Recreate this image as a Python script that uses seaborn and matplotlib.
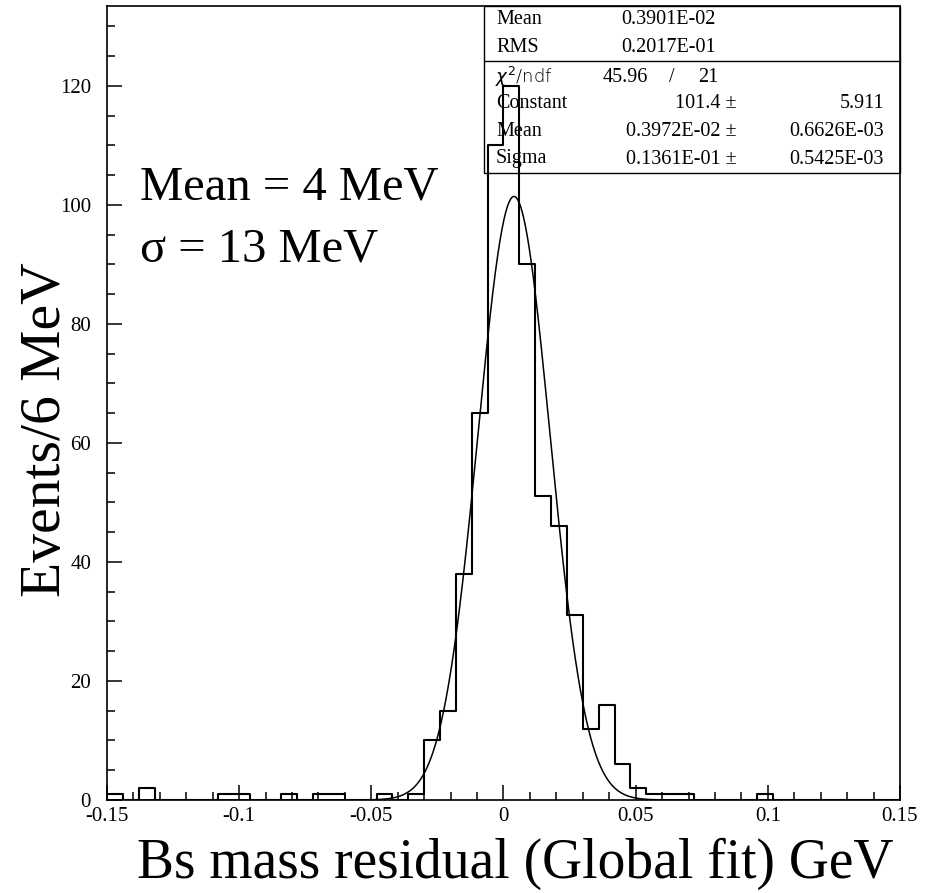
import numpy as np
import pandas as pd
import matplotlib
matplotlib.use("Agg")
import matplotlib.pyplot as plt
import seaborn as sns
from matplotlib.ticker import FixedLocator, MultipleLocator
from matplotlib.patches import Rectangle
from matplotlib.lines import Line2D

# ---------------- data ----------------
x_min, x_max, n_bins = -0.15, 0.15, 50          # 6 MeV bins
counts = [1, 0, 2, 0, 0, 0, 0, 1, 1, 0,
          0, 1, 0, 1, 1, 0, 0, 1, 0, 1,
          10, 15, 38, 65, 110, 120, 90, 51, 46, 31,
          12, 16, 6, 2, 1, 1, 1, 0, 0, 0,
          0, 1, 0, 0, 0, 0, 0, 0, 0, 0]
fit_constant, fit_mean, fit_sigma = 101.4, 0.3972e-02, 0.1361e-01

xtick_vals = [-0.15, -0.1, -0.05, 0, 0.05, 0.1, 0.15]
xtick_labels = ["-0.15", "-0.1", "-0.05", "0", "0.05", "0.1", "0.15"]
ytick_vals = [0, 20, 40, 60, 80, 100, 120]
ytick_labels = ["0", "20", "40", "60", "80", "100", "120"]

stats_rows_top = [("Mean", "0.3901E-02"), ("RMS", "0.2017E-01")]
chi2_text = ("45.96", "21")
fit_rows = [("Constant", "101.4", "5.911"),
            ("Mean", "0.3972E-02", "0.6626E-03"),
            ("Sigma", "0.1361E-01", "0.5425E-03")]

# ---------------- figure ----------------
sns.set_style("white")
plt.rcParams["font.family"] = ["Liberation Serif", "DejaVu Serif"]
plt.rcParams["mathtext.fontset"] = "dejavusans"
for k in ["text.color", "axes.labelcolor", "xtick.color", "ytick.color",
          "axes.edgecolor"]:
    plt.rcParams[k] = "black"

W, H = 929, 893
fig = plt.figure(figsize=(W / 100, H / 100), dpi=100)
L, R, T, B = 107, 900, 6, 800
ax = fig.add_axes([L / W, 1 - B / H, (R - L) / W, (B - T) / H])

edges = np.linspace(x_min, x_max, n_bins + 1)
centers = 0.5 * (edges[:-1] + edges[1:])
hist_df = pd.DataFrame({"x": centers, "w": np.asarray(counts, dtype=float)})
sns.histplot(data=hist_df, x="x", weights="w", bins=edges.tolist(), element="step",
             fill=False, color="black", linewidth=1.5, ax=ax)

xs = np.linspace(x_min, x_max, 1200)
ys = fit_constant * np.exp(-0.5 * ((xs - fit_mean) / fit_sigma) ** 2)
sns.lineplot(x=xs, y=ys, color="black", linewidth=1.1, ax=ax)

ax.set_xlim(x_min, x_max)
ax.set_ylim(0, 133.4)
ax.set_xlabel("")
ax.set_ylabel("")
ax.xaxis.set_major_locator(FixedLocator(xtick_vals))
ax.set_xticklabels(xtick_labels)
ax.xaxis.set_minor_locator(MultipleLocator(0.01))
ax.yaxis.set_major_locator(FixedLocator(ytick_vals))
ax.set_yticklabels(ytick_labels)
ax.yaxis.set_minor_locator(MultipleLocator(5))
ax.tick_params(axis="both", which="major", direction="in", length=10.5,
               width=1.1, labelsize=15, color="black", labelcolor="black",
               bottom=True, left=True, top=False, right=False)
ax.tick_params(axis="both", which="minor", direction="in", length=5.5,
               width=1.1, color="black", bottom=True, left=True,
               top=False, right=False)
ax.tick_params(axis="y", which="major", pad=11.5)
ax.tick_params(axis="x", which="major", pad=5)
for s in ax.spines.values():
    s.set_linewidth(1.2)
    s.set_color("black")
    s.set_visible(True)

# labels
fig.text(515 / W, 1 - 878 / H, "Bs mass residual (Global fit) GeV",
         fontsize=40, ha="center", va="baseline")
fig.text(60 / W, 1 - 430 / H, "Events/6 MeV", fontsize=41.5, rotation=90,
         ha="center", va="baseline", rotation_mode="anchor")
fig.text(140 / W, 1 - 200 / H, "Mean = 4 MeV", fontsize=35, ha="left", va="baseline")
fig.text(140 / W, 1 - 262 / H, "σ = 13 MeV", fontsize=35, ha="left", va="baseline")

# stats box
bx0, bx1, by0, by1, bsep = 484, 900, 6, 173, 61
fig.add_artist(Rectangle((bx0 / W, 1 - by1 / H), (bx1 - bx0) / W, (by1 - by0) / H,
                         transform=fig.transFigure, fill=False, ec="black", lw=1.0))
fig.add_artist(Line2D([bx0 / W, bx1 / W], [1 - bsep / H, 1 - bsep / H],
                      transform=fig.transFigure, color="black", lw=1.0))
fs = 14.5
for (lab, val), yy in zip(stats_rows_top, [20, 47]):
    fig.text(496 / W, 1 - yy / H, lab, fontsize=fs, va="center", ha="left")
    fig.text(621 / W, 1 - yy / H, val, fontsize=fs, va="center", ha="left")
chi_y = 77
fig.text(495 / W, 1 - chi_y / H, r"$\chi^2$/ndf", fontsize=13, va="center",
         ha="left", family="DejaVu Sans", fontweight="light")
fig.text(603 / W, 1 - chi_y / H, chi2_text[0], fontsize=fs, va="center", ha="left")
fig.text(672 / W, 1 - chi_y / H, "/", fontsize=fs, va="center", ha="center")
fig.text(698 / W, 1 - chi_y / H, chi2_text[1], fontsize=fs, va="center", ha="left")
for (lab, val, err), yy in zip(fit_rows, [104, 132, 159]):
    fig.text(496 / W, 1 - yy / H, lab, fontsize=fs, va="center", ha="left")
    fig.text(737 / W, 1 - yy / H, val + " ±", fontsize=fs, va="center", ha="right")
    fig.text(884 / W, 1 - yy / H, err, fontsize=fs, va="center", ha="right")

fig.savefig("out.png", dpi=100)
